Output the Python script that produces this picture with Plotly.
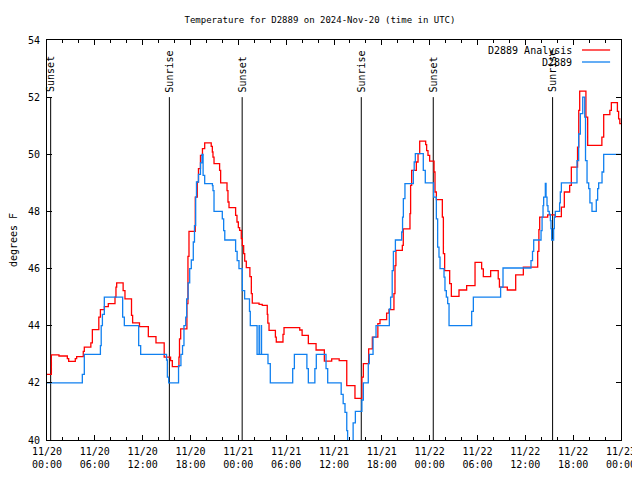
import plotly.graph_objects as go
import pandas as pd

START = pd.Timestamp("2024-11-20 00:00")

# Analysis series (hours since 11/20 00:00 UTC, degrees F)
red_hours = [0.0, 0.55, 1.5, 2.55, 2.72, 3.55, 3.72, 4.55, 4.68, 5.5, 5.69, 6.5, 6.7, 7.2, 7.69,
             8.53, 8.65, 8.74, 9.55, 9.78, 10.6, 10.74, 11.6, 12.71, 13.67, 14.7, 15.5, 15.72,
             16.55, 16.62, 16.77, 17.55, 17.68, 17.81, 18.6, 18.85, 19.0, 19.25, 19.5, 19.78,
             20.6, 20.74, 20.82, 20.95, 21.65, 21.78, 22.58, 22.7, 22.83, 23.66, 23.83, 24.0,
             24.16, 24.37, 24.5, 24.67, 24.8, 25.0, 25.45, 25.63, 25.75, 26.6, 27.0, 27.63, 27.7,
             27.85, 28.65, 28.76, 29.6, 29.73, 31.7, 32.0, 32.78, 33.75, 34.79, 35.71, 36.65,
             37.6, 38.63, 39.5, 39.68, 40.35, 40.81, 41.5, 41.77, 42.6, 42.9, 43.52, 43.65, 43.77,
             44.57, 44.69, 45.53, 45.61, 45.74, 46.33, 46.54, 46.75, 47.5, 47.62, 47.79, 48.0,
             48.55, 48.67, 48.84, 49.59, 49.72, 49.88, 50.51, 50.72, 51.68, 52.64, 53.69, 54.52,
             54.73, 55.65, 56.6, 56.75, 57.74, 58.79, 59.75, 61.55, 61.7, 61.8, 62.8, 63.75,
             64.52, 64.89, 65.56, 65.77, 66.55, 66.7, 66.82, 67.6, 67.82, 69.6, 69.83, 70.6,
             70.79, 71.55, 71.7, 71.85, 72.0]
red_temps = [42.3, 42.98, 42.94, 42.85, 42.75, 42.85, 42.92, 43.1, 43.25, 43.4, 43.86, 44.3, 44.56,
             44.67, 44.77, 45.0, 45.35, 45.5, 45.23, 44.94, 44.36, 44.1, 43.97, 43.62, 43.4, 42.9,
             42.78, 42.57, 42.9, 43.54, 43.89, 44.77, 46.43, 47.3, 48.5, 49.03, 49.5, 49.96, 50.2,
             50.4, 50.28, 50.08, 49.9, 49.67, 49.44, 49.0, 48.73, 48.33, 48.13, 47.86, 47.63,
             47.43, 47.34, 47.05, 46.8, 46.52, 46.26, 46.03, 45.72, 45.12, 44.79, 44.75, 44.71,
             44.4, 44.09, 43.84, 43.6, 43.43, 43.7, 43.93, 43.85, 43.66, 43.37, 43.15, 42.76,
             42.84, 42.78, 41.9, 41.46, 42.2, 42.67, 43.19, 43.6, 44.07, 44.21, 44.44, 44.56,
             45.12, 46.1, 46.64, 46.81, 47.39, 47.92, 48.91, 49.44, 49.73, 50.02, 50.46, 50.34,
             50.13, 49.96, 49.76, 49.38, 48.68, 48.41, 47.8, 46.52, 45.93, 45.47, 45.03, 45.25,
             45.4, 46.22, 45.99, 45.72, 45.93, 45.64, 45.35, 45.25, 45.78, 46.05, 46.6, 47.36,
             47.8, 47.88, 47.82, 48.15, 48.68, 48.91, 49.55, 50.25, 51.54, 52.21, 51.3, 50.31,
             50.6, 51.39, 51.54, 51.81, 51.5, 51.24, 51.07, 51.07]

# Observed series
blue_hours = [0.0, 4.43, 4.68, 6.7, 6.8, 6.95, 7.19, 9.49, 9.7, 11.5, 11.75, 15.0, 15.1, 15.26,
              16.5, 16.8, 17.0, 17.18, 17.4, 17.52, 17.7, 17.9, 18.1, 18.35, 18.5, 18.65, 18.75,
              19.0, 19.25, 19.44, 19.58, 19.78, 20.75, 20.82, 20.95, 21.99, 22.16, 22.3, 23.66,
              23.85, 24.08, 24.5, 24.79, 25.4, 25.5, 26.35, 26.6, 26.63, 26.88, 26.91, 27.72,
              28.01, 30.82, 31.03, 32.6, 32.78, 33.6, 33.78, 35.0, 35.21, 36.9, 37.15, 37.38,
              37.6, 37.71, 38.4, 38.68, 39.5, 39.68, 40.3, 40.43, 40.9, 41.27, 42.94, 43.1, 43.3,
              43.45, 43.7, 44.49, 44.6, 44.7, 44.9, 45.95, 46.06, 46.2, 47.2, 47.45, 48.5, 48.84,
              49.0, 49.17, 49.3, 49.8, 49.92, 50.09, 50.26, 50.43, 53.27, 53.48, 56.9, 57.2,
              60.71, 60.9, 61.05, 61.97, 62.1, 62.22, 62.3, 62.51, 62.6, 62.72, 62.84, 63.0,
              63.14, 63.22, 63.3, 63.55, 63.64, 63.76, 64.3, 64.39, 64.52, 66.48, 66.69, 66.9,
              67.2, 67.45, 67.55, 67.74, 67.95, 68.1, 68.36, 68.9, 69.07, 69.2, 69.62, 69.83, 72.0]
blue_temps = [42.0, 42.3, 43.0, 43.3, 44.0, 44.4, 45.0, 44.3, 44.0, 43.3, 43.0, 42.8, 42.2, 42.0,
              42.6, 43.0, 43.3, 44.0, 44.3, 44.94, 45.5, 46.0, 46.3, 46.93, 47.5, 48.5, 49.03,
              49.3, 49.7, 50.0, 49.26, 48.97, 48.9, 48.73, 48.0, 47.74, 47.33, 47.0, 46.6, 46.28,
              46.0, 45.23, 44.94, 44.5, 44.0, 43.0, 44.0, 43.0, 44.0, 43.0, 42.67, 42.0, 42.5,
              43.0, 42.5, 42.0, 42.5, 43.0, 42.5, 42.0, 41.6, 41.27, 40.97, 40.33, 39.5, 40.6,
              41.0, 41.4, 42.0, 42.67, 43.0, 43.6, 44.0, 44.59, 45.0, 45.93, 46.6, 47.0, 47.28,
              47.8, 48.45, 48.97, 49.44, 49.73, 50.02, 49.44, 49.0, 48.5, 47.74, 46.75, 46.4,
              46.0, 45.7, 45.23, 45.0, 44.77, 44.0, 44.5, 45.0, 45.35, 46.02, 46.28, 46.6, 47.0,
              47.33, 47.8, 48.2, 48.5, 48.98, 48.5, 48.2, 48.0, 47.9, 47.68, 47.4, 47.0, 47.4,
              47.8, 48.0, 48.3, 48.68, 49.0, 49.78, 50.71, 51.42, 52.0, 51.3, 49.78, 49.0, 48.8,
              48.3, 48.0, 48.4, 48.8, 49.0, 49.38, 50.0, 50.0]

# Sun events (hours since 11/20 00:00 UTC)
event_hours = [0.46, 15.35, 24.48, 39.42, 48.45, 63.42]
event_labels = ["Sunset", "Sunrise", "Sunset", "Sunrise", "Sunset", "Sunrise"]

series_names = ["D2889 Analysis", "D2889"]
series_colors = ["#ff0000", "#1080f0"]

FONT = "DejaVu Sans Mono"


def t(h):
    return START + pd.to_timedelta(h, unit="h")


fig = go.Figure()
fig.add_trace(go.Scatter(x=[t(h) for h in red_hours], y=red_temps, mode="lines",
                         line=dict(color=series_colors[0], width=1.3, shape="hv"),
                         name=series_names[0]))
fig.add_trace(go.Scatter(x=[t(h) for h in blue_hours], y=blue_temps, mode="lines",
                         line=dict(color=series_colors[1], width=1.3, shape="hv"),
                         name=series_names[1]))

shapes = []
annotations = []
for h, lab in zip(event_hours, event_labels):
    shapes.append(dict(type="line", xref="x", yref="y", x0=t(h), x1=t(h), y0=40, y1=52,
                       line=dict(color="black", width=1), layer="below"))
    annotations.append(dict(x=t(h), y=52.1, xref="x", yref="y", text=lab, textangle=-90,
                            showarrow=False, xanchor="center", yanchor="bottom",
                            font=dict(family=FONT, size=10, color="black")))

# legend drawn manually (gnuplot style: text right-aligned, sample on the right)
for i, (name, col) in enumerate(zip(series_names, series_colors)):
    ypos = 0.975 - i * 0.03
    annotations.append(dict(x=0.918, y=ypos, xref="paper", yref="paper", text=name,
                            showarrow=False, xanchor="right", yanchor="middle",
                            font=dict(family=FONT, size=10, color="black")))
    shapes.append(dict(type="line", xref="paper", yref="paper", x0=0.932, x1=0.981,
                       y0=ypos, y1=ypos, line=dict(color=col, width=1.3)))

# page body has an 8px margin, so offset the figure margins to land the plot box at 47..621 / 40..440
fig.update_layout(
    width=640, height=480,
    margin=dict(l=39, r=27, t=32, b=48, autoexpand=False),
    paper_bgcolor="white", plot_bgcolor="white",
    showlegend=False,
    font=dict(family=FONT, size=10, color="black"),
    title=dict(text="Temperature for D2889 on 2024-Nov-20 (time in UTC)",
               x=312 / 640, xref="container", xanchor="center",
               y=1 - 12 / 480, yref="container", yanchor="middle", automargin=False,
               font=dict(family=FONT, size=9, color="black")),
    shapes=shapes,
    annotations=annotations,
)
fig.update_xaxes(type="date", range=[t(0), t(72)], tickformat="%m/%d<br>%H:%M",
                 tick0=t(0), dtick=6 * 3600 * 1000, ticks="inside", ticklen=5,
                 tickcolor="black", showline=True, linecolor="black", linewidth=1,
                 mirror="ticks", showgrid=False, zeroline=False, automargin=False,
                 ticklabelstandoff=2,
                 minor=dict(dtick=2 * 3600 * 1000, ticks="inside", ticklen=3,
                            tickcolor="black", showgrid=False),
                 tickfont=dict(family=FONT, size=10, color="black"))
fig.update_yaxes(range=[40, 54], dtick=2, ticks="inside", ticklen=5, tickcolor="black",
                 showline=True, linecolor="black", linewidth=1, mirror="ticks",
                 showgrid=False, zeroline=False, ticklabelstandoff=4, automargin=False,
                 title=dict(text="degrees F", standoff=22,
                            font=dict(family=FONT, size=10, color="black")),
                 tickfont=dict(family=FONT, size=10, color="black"))

fig.write_html("out.html")
